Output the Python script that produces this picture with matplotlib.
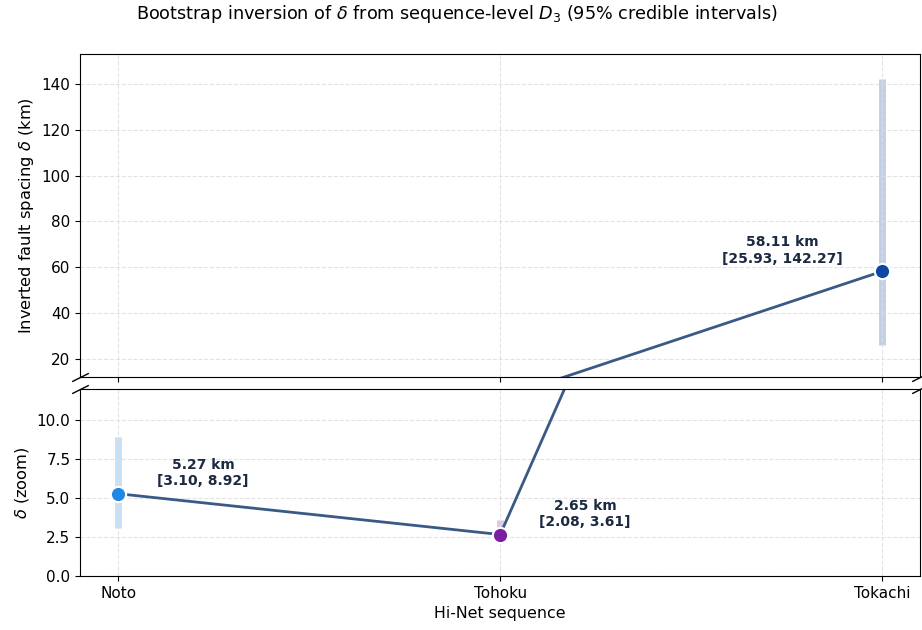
import numpy as np
import matplotlib.pyplot as plt

sequences = ["Noto", "Tohoku", "Tokachi"]
delta = [5.27, 2.65, 58.11]
ci_low = [3.10, 2.08, 25.93]
ci_high = [8.92, 3.61, 142.27]
colors = ["#1E88E5", "#7B1FA2", "#0D47A1"]
label_dx = [61, 61, -72]

x = np.arange(len(sequences))

fig, (ax_top, ax_bot) = plt.subplots(2, 1, sharex=True, figsize=(9.22, 6.3), dpi=100,
                                     gridspec_kw={"height_ratios": [1.727, 1]})
fig.subplots_adjust(left=0.087, right=0.998, top=0.914, bottom=0.086, hspace=0.047)

line_color = "#3A5A85"
for ax in (ax_top, ax_bot):
    ax.plot(x, delta, color=line_color, lw=2, zorder=2)
    for i in range(len(x)):
        ax.vlines(x[i], ci_low[i], ci_high[i], color=colors[i], alpha=0.25, lw=5, zorder=1)
        ax.plot(x[i], delta[i], "o", ms=11, color=colors[i], mec="white", mew=1.5, zorder=3)
    ax.grid(True, ls="--", color="#dddddd", alpha=0.8, lw=0.8)

for i in range(len(x)):
    ax = ax_top if delta[i] > 12 else ax_bot
    ax.annotate(f"{delta[i]:.2f} km\n[{ci_low[i]:.2f}, {ci_high[i]:.2f}]",
                (x[i], delta[i]), xytext=(label_dx[i], 15),
                textcoords="offset points", ha="center", va="center",
                fontsize=10, fontweight="bold", color="#1B2A41")

ax_top.set_ylim(12, 153)
ax_bot.set_ylim(0, 12)
ax_bot.set_xlim(-0.1, 2.1)
ax_bot.set_xticks(x)
ax_bot.set_xticklabels(sequences, fontsize=11)
ax_top.tick_params(labelbottom=False, labelsize=11)
ax_bot.tick_params(labelsize=11)
ax_bot.set_yticks([0, 2.5, 5.0, 7.5, 10.0])

ax_top.set_ylabel(r"Inverted fault spacing $\delta$ (km)", fontsize=11.7)
ax_bot.set_ylabel(r"$\delta$ (zoom)", fontsize=11.7)
ax_bot.set_xlabel("Hi-Net sequence", fontsize=11.4)

# break marks
d = 0.5
kw = dict(marker=[(-1, -d), (1, d)], markersize=12, linestyle="none",
          color="k", mec="k", mew=1, clip_on=False)
ax_top.plot([0, 1], [0, 0], transform=ax_top.transAxes, **kw)
ax_bot.plot([0, 1], [1, 1], transform=ax_bot.transAxes, **kw)

fig.suptitle(r"Bootstrap inversion of $\delta$ from sequence-level $D_3$ (95% credible intervals)",
             fontsize=12.7, x=0.496, y=0.996)
fig.savefig("out.png", dpi=100)
